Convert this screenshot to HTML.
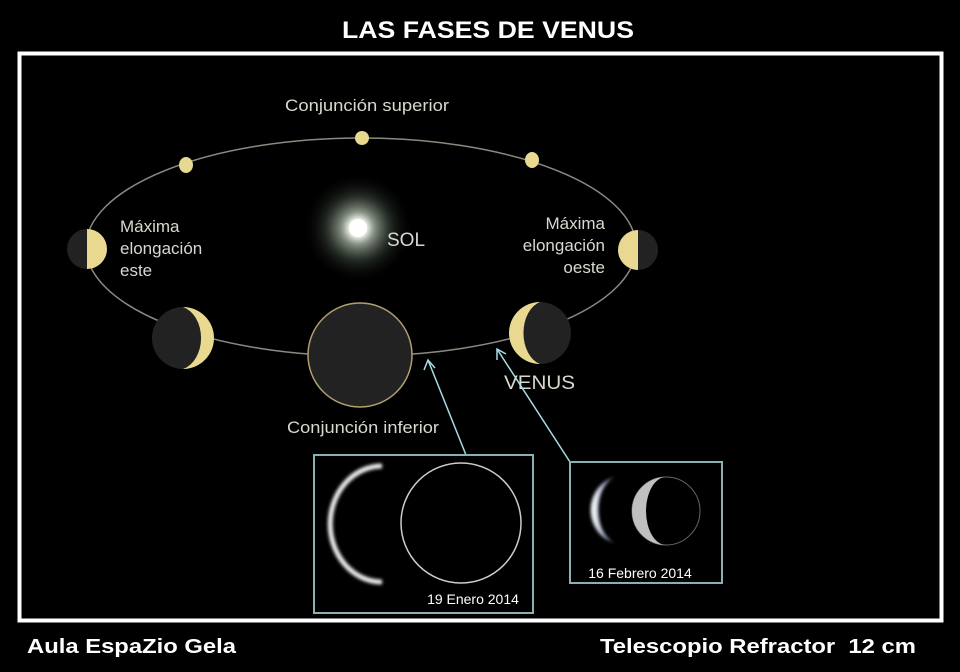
<!DOCTYPE html>
<html><head><meta charset="utf-8"><style>
html,body{margin:0;padding:0;background:#000;width:960px;height:672px;overflow:hidden}
svg{display:block}
</style></head><body>
<svg width="960" height="672" viewBox="0 0 960 672" xmlns="http://www.w3.org/2000/svg" font-family="Liberation Sans, sans-serif">
<defs>
<radialGradient id="sun"><stop offset="0" stop-color="#fff"/><stop offset="0.15" stop-color="#f4f8f0"/><stop offset="0.3" stop-color="#a8b4a4" stop-opacity="0.8"/><stop offset="0.6" stop-color="#445044" stop-opacity="0.5"/><stop offset="1" stop-color="#000" stop-opacity="0"/></radialGradient>
<filter id="bl"><feGaussianBlur stdDeviation="1.5"/></filter>
<linearGradient id="vb" x1="0" y1="0" x2="1" y2="0"><stop offset="0" stop-color="#fff"/><stop offset="1" stop-color="#6a78b0"/></linearGradient>
</defs>
<rect width="960" height="672" fill="#000"/>
<text x="488" y="38" fill="#fff" font-size="24" font-weight="bold" text-anchor="middle" textLength="292" lengthAdjust="spacingAndGlyphs">LAS FASES DE VENUS</text>
<rect x="19.5" y="53.5" width="922" height="567" fill="none" stroke="#fff" stroke-width="4"/>
<ellipse cx="361" cy="247" rx="275" ry="109" fill="none" stroke="#8a8a80" stroke-width="1.5"/>
<circle cx="358" cy="228" r="55" fill="url(#sun)"/>
<circle cx="358" cy="228" r="9" fill="#fff"/>
<g fill="#d8d8d0" font-size="17">
<text x="367" y="111" text-anchor="middle" textLength="164" lengthAdjust="spacingAndGlyphs">Conjunción superior</text>
<text x="387" y="246" font-size="19">SOL</text>
<text x="120" y="232">Máxima</text><text x="120" y="254">elongación</text><text x="120" y="276">este</text>
<text x="605" y="229" text-anchor="end">Máxima</text><text x="605" y="251" text-anchor="end">elongación</text><text x="605" y="273" text-anchor="end">oeste</text>
<text x="363" y="433" text-anchor="middle" textLength="152" lengthAdjust="spacingAndGlyphs">Conjunción inferior</text>
<text x="504" y="389" font-size="19" textLength="71" lengthAdjust="spacingAndGlyphs">VENUS</text>
</g>
<circle cx="362" cy="138" r="7" fill="#e8d890"/>
<ellipse cx="186" cy="165" rx="7" ry="8" fill="#e8d890"/>
<ellipse cx="532" cy="160" rx="7" ry="8" fill="#e8d890"/>
<circle cx="87" cy="249" r="20" fill="#222"/>
<path d="M87 229 A20 20 0 0 1 87 269 Z" fill="#e8d890"/>
<circle cx="638" cy="250" r="20" fill="#222"/>
<path d="M638 230 A20 20 0 0 0 638 270 Z" fill="#e8d890"/>
<circle cx="183" cy="338" r="31" fill="#222"/>
<path d="M183 307 A31 31 0 0 1 183 369 A24 32 0 0 0 183 307 Z" fill="#e8d890"/>
<circle cx="540" cy="333" r="31" fill="#222"/>
<path d="M540 302 A31 31 0 0 0 540 364 A22 32 0 0 1 540 302 Z" fill="#e8d890"/>
<circle cx="360" cy="355" r="52" fill="#222" stroke="#b0a070" stroke-width="1.5"/>
<g stroke="#a8dce6" stroke-width="1.5" fill="none">
<line x1="466" y1="455" x2="428" y2="360"/><path d="M424 370 L428 360 L435 368"/>
<line x1="570" y1="462" x2="497" y2="349"/><path d="M497 360 L497 349 L506 354"/>
</g>
<rect x="314" y="455" width="219" height="158" fill="#000" stroke="#8ab0b4" stroke-width="2"/>
<path d="M382 466 A50 56 0 0 0 382 582" fill="none" stroke="#eee" stroke-width="5" filter="url(#bl)"/>
<circle cx="461" cy="523" r="60" fill="none" stroke="#ccc" stroke-width="1.5"/>
<text x="473" y="604" fill="#fff" font-size="14" text-anchor="middle">19 Enero 2014</text>
<rect x="570" y="462" width="152" height="121" fill="#000" stroke="#8ab0b4" stroke-width="2"/>
<path d="M615 477 A32 34 0 0 0 615 543 A22 34 0 0 1 615 477 Z" fill="url(#vb)" filter="url(#bl)"/>
<circle cx="666" cy="511" r="34" fill="#000" stroke="#666" stroke-width="1"/>
<path d="M666 477 A34 34 0 0 0 666 545 A20 34 0 0 1 666 477 Z" fill="#c0c0c0"/>
<text x="640" y="578" fill="#fff" font-size="14" text-anchor="middle">16 Febrero 2014</text>
<text x="27" y="653" fill="#fff" font-size="20" font-weight="bold" textLength="209" lengthAdjust="spacingAndGlyphs">Aula EspaZio Gela</text>
<text x="600" y="653" fill="#fff" font-size="20" font-weight="bold" textLength="316" lengthAdjust="spacingAndGlyphs" xml:space="preserve">Telescopio Refractor  12 cm</text>
</svg>
</body></html>
